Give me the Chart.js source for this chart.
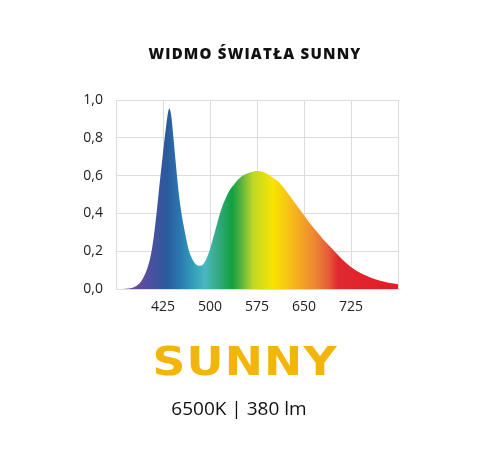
<!DOCTYPE html>
<html>
<head>
<meta charset="utf-8">
<script src="https://cdn.jsdelivr.net/npm/chart.js@4"></script>
<style>
  html, body { margin: 0; padding: 0; background: #ffffff; }
  #wrap { position: relative; width: 500px; height: 450px; overflow: hidden; }
  #c { position: absolute; left: 0; top: 0; }
  .txt { position: absolute; left: 0; width: 500px; text-align: center; white-space: nowrap; }
  #title { top: 43px; left: 5px; font-family: "Open Sans", sans-serif; font-weight: 800; font-size: 15px; letter-spacing: 1.2px; color: #111; }
  #brand { top: 339px; left: -5px; font-family: "DejaVu Sans", sans-serif; font-weight: 700; font-size: 39px; letter-spacing: 1px; color: #f4b50a; transform: scaleX(1.17); transform-origin: 250px 0; }
  #spec { top: 395px; left: -11px; font-family: "Open Sans", sans-serif; font-size: 19px; color: #111; }
</style>
</head>
<body>
<div id="wrap">
  <canvas id="c" width="500" height="450"></canvas>
  <div class="txt" id="title">WIDMO ŚWIATŁA SUNNY</div>
  <div class="txt" id="brand">SUNNY</div>
  <div class="txt" id="spec">6500K | 380 lm</div>
</div>
<script>
// Data
const wavelengths = [360,370,380,390,400,405,410,415,420,425,430,435,438,440,445,450,455,460,465,470,475,480,485,490,495,500,505,510,515,520,525,530,540,550,560,570,575,580,590,600,610,620,630,640,650,660,670,680,690,700,710,720,730,740,750,760,770,780,790,800];
const intensity   = [0,0.003,0.012,0.04,0.11,0.17,0.27,0.41,0.57,0.72,0.86,0.955,0.92,0.86,0.68,0.51,0.39,0.30,0.22,0.17,0.14,0.125,0.123,0.135,0.165,0.21,0.27,0.33,0.39,0.44,0.48,0.515,0.56,0.595,0.613,0.622,0.624,0.623,0.613,0.59,0.565,0.525,0.48,0.435,0.39,0.345,0.305,0.265,0.23,0.195,0.16,0.13,0.105,0.085,0.07,0.055,0.045,0.037,0.03,0.025];
const xTickValues = [425,500,575,650,725];
const yTickLabels = ['0,0','0,2','0,4','0,6','0,8','1,0'];

// spectrum colour stops (style)
const stopWl = [380,407,431,452,468,492,516,535,548,569,600,633,665,687,705,800];
const stopCol = ['#6a4a9a','#4a50a0','#2a5a9c','#2a78b0','#2f95b8','#48b8c0','#30a878','#10a040','#50b040','#c0d828','#f8e400','#f5b81c','#ee8a30','#e8603a','#e02830','#e01e25'];

const points = wavelengths.map((w, i) => ({x: w, y: intensity[i]}));

function spectrumFill(context) {
  const chart = context.chart;
  const {ctx, chartArea, scales} = chart;
  if (!chartArea) return '#888';
  const x0 = scales.x.getPixelForValue(350);
  const x1 = scales.x.getPixelForValue(800);
  const g = ctx.createLinearGradient(x0, 0, x1, 0);
  g.addColorStop(0, stopCol[0]);
  stopWl.forEach((w, i) => {
    g.addColorStop((w - 350) / 450, stopCol[i]);
  });
  return g;
}

const gridColor = '#dcdcdc';

new Chart(document.getElementById('c'), {
  type: 'line',
  data: {
    datasets: [{
      data: points,
      fill: 'origin',
      borderWidth: 0,
      borderColor: 'rgba(0,0,0,0)',
      pointRadius: 0,
      cubicInterpolationMode: 'monotone',
      backgroundColor: spectrumFill
    }]
  },
  options: {
    responsive: false,
    animation: false,
    layout: { padding: { left: 0, right: 102, top: 100, bottom: 131 } },
    plugins: { legend: { display: false }, title: { display: false }, tooltip: { enabled: false } },
    scales: {
      x: {
        type: 'linear',
        min: 350, max: 800,
        afterBuildTicks: s => { s.ticks = [350].concat(xTickValues, [800]).map(v => ({value: v})); },
        afterFit: s => { s.height = 30; },
        grid: { color: gridColor, drawTicks: false, lineWidth: 1 },
        border: { color: gridColor },
        ticks: {
          padding: 10,
          color: '#222',
          font: { family: 'Open Sans', size: 14 },
          callback: v => xTickValues.includes(v) ? String(v) : ''
        }
      },
      y: {
        min: 0, max: 1,
        afterBuildTicks: s => { s.ticks = yTickLabels.map((t, i) => ({value: i * 0.2})); },
        afterFit: s => { s.width = 116; },
        grid: { color: gridColor, drawTicks: false, lineWidth: 1 },
        border: { color: gridColor },
        ticks: {
          padding: 13,
          color: '#222',
          font: { family: 'Open Sans', size: 14 },
          callback: (v, i) => yTickLabels[i]
        }
      }
    }
  }
});
</script>
</body>
</html>
